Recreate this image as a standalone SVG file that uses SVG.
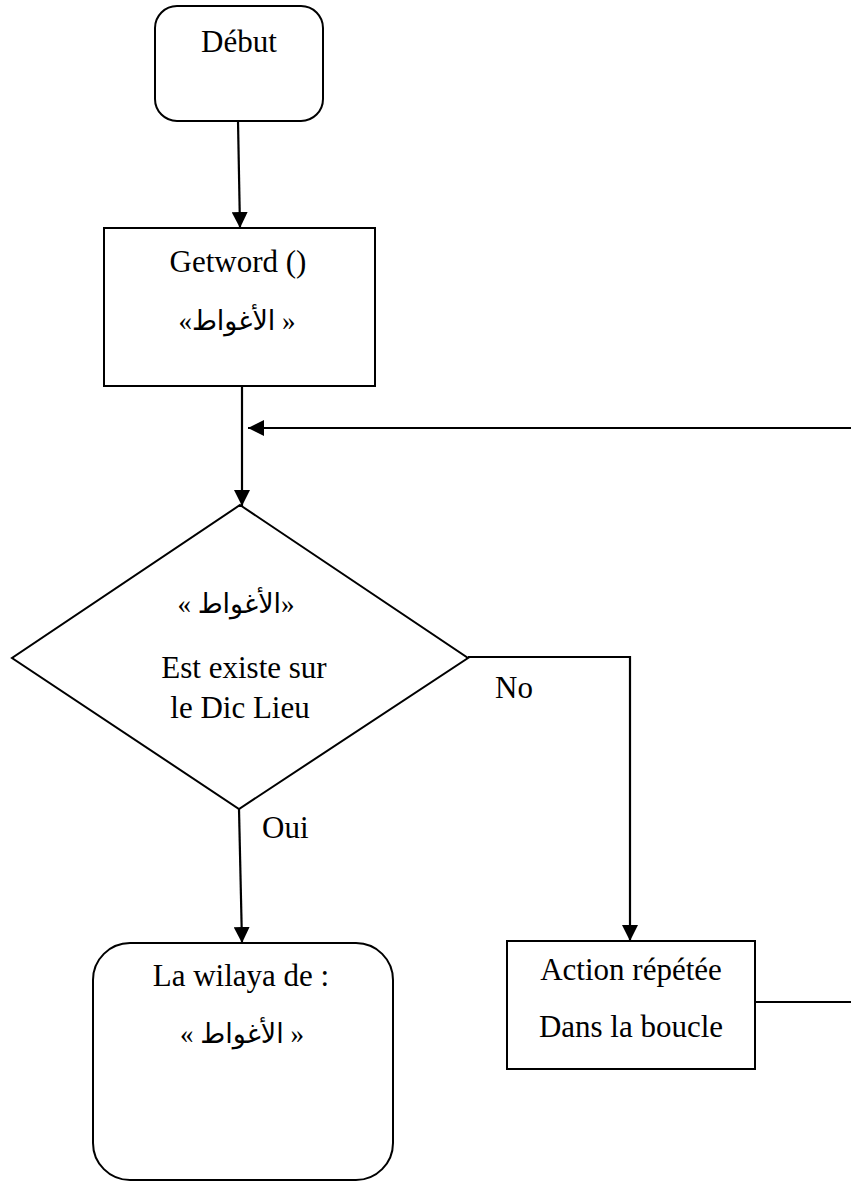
<svg xmlns="http://www.w3.org/2000/svg" width="851" height="1182" viewBox="0 0 851 1182">
<style>
.box{fill:#fff;stroke:#000;stroke-width:2}
.t{font-family:"Liberation Serif","Times New Roman",serif;font-size:31px;fill:#000;text-anchor:middle}
.ar{font-family:"Liberation Serif","DejaVu Sans",serif;font-size:27px;fill:#000;text-anchor:middle}
.c{fill:none;stroke:#000;stroke-width:2.2}
</style>
<defs>
<marker id="arr" viewBox="0 0 16 16" refX="16" refY="8" markerWidth="16" markerHeight="16" markerUnits="userSpaceOnUse" orient="auto">
<path d="M0,0 L16,8 L0,16 Z" fill="#000"/>
</marker>
</defs>
<g id="connectors">
<line class="c" x1="238" y1="121" x2="240" y2="228" marker-end="url(#arr)"/>
<line class="c" x1="242" y1="386" x2="242" y2="506" marker-end="url(#arr)"/>
<line class="c" x1="851" y1="428" x2="248" y2="428" marker-end="url(#arr)"/>
<polyline class="c" points="468,657 630,657 630,941" marker-end="url(#arr)"/>
<line class="c" x1="239" y1="809" x2="242" y2="943" marker-end="url(#arr)"/>
<line class="c" x1="755" y1="1002" x2="851" y2="1002"/>
<text class="t" x="495" y="698" style="text-anchor:start">No</text>
<text class="t" x="262" y="838" style="text-anchor:start">Oui</text>
</g>
<g id="debut">
<rect class="box" x="155" y="6" width="168" height="115" rx="22"/>
<text class="t" x="239" y="52">Début</text>
</g>
<g id="getword">
<rect class="box" x="104" y="228" width="271" height="158"/>
<text class="t" x="238" y="272">Getword ()</text>
<text class="ar" x="237" y="330">«الأغواط »</text>
</g>
<g id="decision">
<polygon class="box" points="240,505 468,658 239,809 12,658"/>
<text class="ar" x="236" y="613">« الأغواط»</text>
<text class="t" x="244" y="678">Est existe sur</text>
<text class="t" x="240" y="718">le Dic Lieu</text>
</g>
<g id="action">
<rect class="box" x="507" y="941" width="248" height="128"/>
<text class="t" x="631" y="980">Action répétée</text>
<text class="t" x="631" y="1037">Dans la boucle</text>
</g>
<g id="wilaya">
<rect class="box" x="93" y="943" width="300" height="237" rx="37"/>
<text class="t" x="241" y="986">La wilaya de :</text>
<text class="ar" x="242" y="1043">« الأغواط »</text>
</g>
</svg>
